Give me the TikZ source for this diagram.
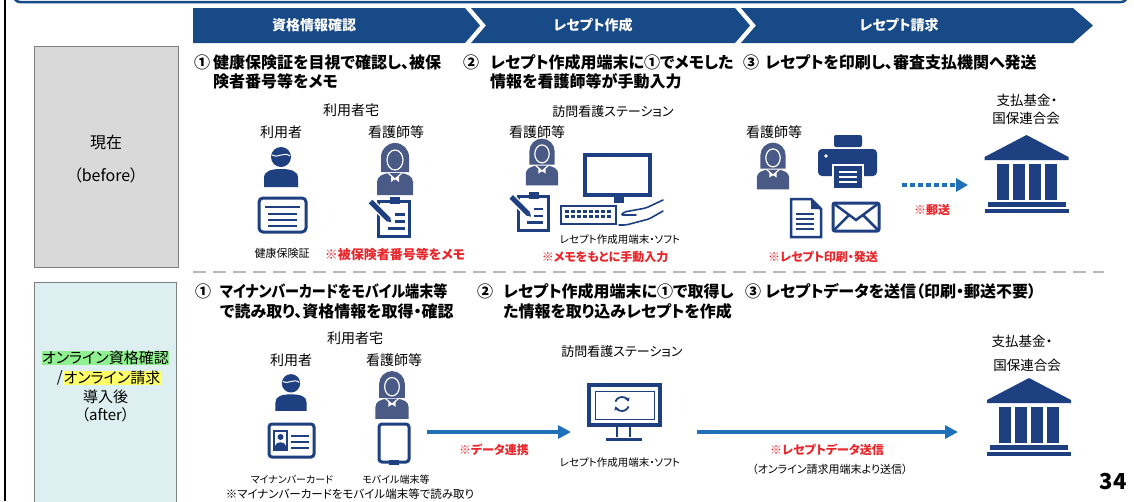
\documentclass[tikz,border=0pt]{standalone}
\usepackage{fontspec}
\usepackage{graphicx}
\setmainfont{Noto Sans CJK JP}[RawFeature=+palt]
\usetikzlibrary{positioning}
\usetikzlibrary{arrows.meta}

\definecolor{hdrblue}{HTML}{174A86}
\definecolor{iconblue}{HTML}{1E3F80}
\definecolor{nurseblue}{HTML}{4A5A86}
\definecolor{flowblue}{HTML}{1F70B8}
\definecolor{notered}{HTML}{E8262B}
\definecolor{nowgray}{HTML}{D9D9D9}
\definecolor{aftercyan}{HTML}{DDEFF0}
\definecolor{framegray}{HTML}{7F7F7F}
\definecolor{hlgreen}{HTML}{8FF08F}
\definecolor{hlyellow}{HTML}{FFFF66}

\newcommand\fsz[1]{\fontsize{#1}{#1}\selectfont}

% icons, drawn around their centre (y grows downwards)
\tikzset{
  user/.pic={
    \fill[iconblue] (0,-10) circle (10);
    \draw[white, line width=1pt] (-9,-12) .. controls (-4,-8) and (3,-16) .. (9,-11);
    \fill[iconblue] (-17,20) -- (-17,11) .. controls (-17,4) and (-10,2) .. (0,2)
      .. controls (10,2) and (17,4) .. (17,11) -- (17,20) -- cycle;
  },
  nurse/.pic={
    \fill[nurseblue] (-14,3) -- (-14,-12) arc[start angle=180, end angle=360, radius=14] -- (14,3) -- cycle;
    \fill[nurseblue] (-18,26) -- (-18,13) .. controls (-18,7) and (-12,5) .. (-6,4) -- (6,4)
      .. controls (12,5) and (18,7) .. (18,13) -- (18,26) -- cycle;
    \draw[white, line width=1.2pt, fill=nurseblue] (0,-9) ellipse [x radius=8, y radius=10];
    \draw[white, line width=1.2pt] (-7,4) -- (0,10) -- (7,4);
    \fill[white] (0,10) -- (-4,7) -- (-4,13) -- cycle;
    \fill[white] (0,10) -- (4,7) -- (4,13) -- cycle;
  },
  memo/.pic={
    \draw[iconblue, line width=3pt] (-15,-17) rectangle (16,18);
    \fill[iconblue] (-4,-22) rectangle (6,-15);
    \draw[iconblue, line width=2.5pt] (1,-4) -- (11,-4) (1,3) -- (11,3) (-6,10) -- (11,10);
    \draw[white, line width=8pt] (-23,-17) -- (-3,3);
    \draw[iconblue, line width=5pt] (-23,-17) -- (-5,1);
    \fill[iconblue] (-3.2,-0.8) -- (-2.2,3.8) -- (-6.8,2.8) -- cycle;
  },
  bank/.pic={
    \fill[iconblue] (-42,-17) -- (0,-39) -- (42,-17) -- (42,-14) -- (-42,-14) -- cycle;
    \foreach \c in {-30,-14,2,18}
      \fill[iconblue] (\c,-10) rectangle ++(12,36);
    \fill[iconblue] (-39,28) rectangle (39,33);
    \fill[iconblue] (-42,35) rectangle (42,39);
  }
}

\begin{document}
\begin{tikzpicture}[x=1pt, y=-1pt,
    steptext/.style={anchor=west, inner sep=0pt, font=\bfseries\fsz{16}},
    place/.style={inner sep=0pt, font=\fsz{14}},
    devname/.style={inner sep=0pt, font=\fsz{10.5}},
    remark/.style={inner sep=0pt, text=notered, font=\bfseries\fsz{12}},
    phase/.style={inner sep=0pt, text=white, font=\bfseries\fsz{14}},
    flow/.style={flowblue, line width=3.5pt, -{Triangle[length=13pt, width=13pt]}},
    post/.style={flowblue, line width=4pt, dash pattern=on 5pt off 3pt,
      -{Triangle[length=12pt, width=13pt]}},
    divider/.style={gray!55, line width=2pt, dash pattern=on 13pt off 7pt},
    stagebox/.style={draw=framegray, line width=1pt, inner sep=0pt}]

  \useasboundingbox (0,0) rectangle (1134,501);
  \fill[white] (0,0) rectangle (1134,501);

  % frame of the page
  \draw[hdrblue, line width=2.5pt, rounded corners=6pt] (14,-30) -- (14,2) -- (1127,2) -- (1127,-30);
  \draw[black, line width=1.6pt] (5,0) -- (5,501);

  % phases
  \fill[hdrblue] (193,8) -- (465,8) -- (480,25.5) -- (465,43) -- (193,43) -- cycle;
  \fill[hdrblue] (471,8) -- (735,8) -- (750,25.5) -- (735,43) -- (471,43) -- (486,25.5) -- cycle;
  \fill[hdrblue] (741,8) -- (1073,8) -- (1093,25.5) -- (1073,43) -- (741,43) -- (756,25.5) -- cycle;
  \node[phase] (ph1) at (314,25.5) {資格情報確認};
  \node[phase] (ph2) at (593,25.5) {レセプト作成};
  \node[phase] (ph3) at (899,25.5) {レセプト請求};

  % row headers
  \node[stagebox, fill=nowgray, minimum width=144pt, minimum height=221pt] (now) at (106,156.5) {};
  \node[place, font=\fsz{16}] (nowjp) at (106,142) {現在};
  \node[place, font=\fsz{16}] (nowen) at (106,175) {（before）};

  \node[stagebox, fill=aftercyan, minimum width=142pt, minimum height=240pt] (after) at (105,402) {};
  \node[place, font=\fsz{15}, fill=hlgreen, inner sep=0.5pt] (onl1) at (105.5,358) {オンライン資格確認};
  \node[place, font=\fsz{15}, fill=hlyellow, inner sep=0.5pt] (onl2) at (112,378) {オンライン請求};
  \node[place, font=\fsz{15}, left=0pt of onl2] (slash) {/};
  \node[place, font=\fsz{15}] (intro) at (105.5,397) {導入後};
  \node[place, font=\fsz{15}] (afteren) at (105.5,415) {（after）};

  \draw[divider] (193,272) -- (1104,272);

  % ---- before: step 1
  \node[steptext] (n1a) at (194,62) {①};
  \node[steptext] (t1a) at (213,62) {健康保険証を目視で確認し、被保};
  \node[steptext] (t1b) at (213,81) {険者番号等をメモ};
  \node[place] (home1) at (351,110) {利用者宅};
  \node[place] (usr1) at (281,132) {利用者};
  \node[place] (nrs1) at (396,132) {看護師等};
  \pic at (281,167) {user};
  \pic at (395,169) {nurse};
  \draw[iconblue, line width=3pt, rounded corners=4pt] (259,198) rectangle (306,232);
  \draw[iconblue, line width=2.5pt] (265,207) -- (300,207)
    (268,214) -- (297,214) (268,220) -- (297,220) (268,226) -- (297,226);
  \pic at (393.5,218.5) {memo};
  \node[devname, font=\fsz{11}] (card1) at (282,253) {健康保険証};
  \node[remark, font=\bfseries\fsz{13}] (memo1) at (395,255) {※被保険者番号等をメモ};

  % ---- before: step 2
  \node[steptext] (n2a) at (463,62) {②};
  \node[steptext] (t2a) at (490,62) {レセプト作成用端末に①でメモした};
  \node[steptext] (t2b) at (490,81) {情報を看護師等が手動入力};
  \node[place, font=\fsz{13}] (stn1) at (613,112) {訪問看護ステーション};
  \node[place] (nrs2) at (537,132) {看護師等};
  \pic[scale=0.9] at (542,162) {nurse};
  \pic[scale=0.95] at (533,213) {memo};
  \draw[iconblue, line width=3.5pt] (585,155) rectangle (650,195);
  \fill[iconblue] (614,197) rectangle (624,203);
  \draw[iconblue, line width=2.5pt] (561,206) rectangle (616,224);
  \foreach \i in {0,...,7} {
    \fill[iconblue] (565+\i*6,209.5) rectangle ++(4,3);
    \fill[iconblue] (565+\i*6,214.5) rectangle ++(4,3);
  }
  \draw[iconblue, line width=1.6pt, line cap=round, rounded corners=2pt]
    (663,200) -- (646,208) -- (624,212) -- (621,215) -- (636,215)
    (663,211) -- (649,219) -- (626,225) -- (619,225);
  \node[devname] (soft1) at (620,240) {レセプト作成用端末・ソフト};
  \node[remark] (input1) at (605,257) {※メモをもとに手動入力};

  % ---- before: step 3
  \node[steptext] (n3a) at (743,62) {③};
  \node[steptext] (t3a) at (765,62) {レセプトを印刷し、審査支払機関へ発送};
  \node[place] (nrs3) at (774,132) {看護師等};
  \pic[scale=0.9] at (773,166) {nurse};
  \fill[iconblue, rounded corners=2pt] (834,135) rectangle (862,147);
  \fill[iconblue, rounded corners=4pt] (818,149) rectangle (877,176);
  \fill[white] (826,156) circle (1.8);
  \draw[white, line width=2pt, fill=iconblue] (833,165) rectangle (863,189);
  \draw[white, line width=1.8pt] (839,172) -- (857,172) (839,177) -- (857,177) (839,182) -- (857,182);
  \draw[iconblue, line width=2.5pt, line join=miter] (791,199) -- (811,199) -- (821,209) -- (821,237) -- (791,237) -- cycle;
  \fill[iconblue] (811,199) -- (811,209) -- (821,209) -- cycle;
  \foreach \y in {214,219,224,229}
    \draw[iconblue, line width=2.5pt] (796,\y) -- (814,\y);
  \draw[iconblue, line width=3pt, rounded corners=2pt] (833,203) rectangle (879,231);
  \draw[iconblue, line width=2.5pt] (833,203) -- (856,220) -- (879,203) (833,231) -- (849,215) (879,231) -- (863,215);
  \node[remark] (print1) at (823,257) {※レセプト印刷・発送};
  \coordinate (postS) at (902,185);
  \coordinate (postE) at (968,185);
  \draw[post] (postS) -- (postE);
  \node[remark] (mail1) at (932,210) {※郵送};
  \node[place, font=\fsz{13.5}] (fund1a) at (1027,100) {支払基金・};
  \node[place, font=\fsz{13.5}] (fund1b) at (1026,118) {国保連合会};
  \pic at (1026.5,174) {bank};

  % ---- after: step 1
  \node[steptext] (n1c) at (195,291) {①};
  \node[steptext] (t1c) at (220,291) {\scalebox{0.88}[1]{マイナンバーカードをモバイル端末等}};
  \node[steptext] (t1d) at (220,311) {で読み取り、資格情報を取得・確認};
  \node[place] (home2) at (355,338) {利用者宅};
  \node[place] (usr2) at (291,360) {利用者};
  \node[place] (nrs4) at (394,360) {看護師等};
  \pic[scale=0.92] at (291,392.5) {user};
  \pic[scale=0.92] at (392,395) {nurse};
  \draw[iconblue, line width=3pt, rounded corners=3pt] (269,424) rectangle (314,457);
  \draw[iconblue, line width=1.5pt] (274,431) rectangle (287,450);
  \fill[iconblue] (280.5,437) circle (3);
  \fill[iconblue] (275,449) -- (275,446) .. controls (276,441) and (285,441) .. (286,446) -- (286,449) -- cycle;
  \draw[iconblue, line width=2.5pt] (291,436) -- (309,436) (291,442) -- (309,442) (291,448) -- (309,448);
  \draw[iconblue, line width=3pt, rounded corners=3pt] (379,424) rectangle (409,462);
  \fill[iconblue] (389,460) rectangle (399,465);
  \node[devname, font=\fsz{10}] (mncard) at (292,480) {マイナンバーカード};
  \node[devname, font=\fsz{10}] (mobile) at (396,480) {モバイル端末等};
  \node[place, font=\fsz{11.5}] (readnote) at (350,494) {※マイナンバーカードをモバイル端末等で読み取り};

  % ---- after: step 2
  \node[steptext] (n2c) at (477,291) {②};
  \node[steptext] (t2c) at (503,291) {レセプト作成用端末に①で取得し};
  \node[steptext] (t2d) at (503,311) {た情報を取り込みレセプトを作成};
  \node[place, font=\fsz{13}] (stn2) at (622,352) {訪問看護ステーション};
  \draw[iconblue, line width=3.5pt] (589,385) rectangle (660,425);
  \draw[iconblue, line width=1pt] (595,391) rectangle (654,419);
  \draw[iconblue, line width=2.5pt] (617,427) -- (617,437) (630,427) -- (630,437);
  \draw[iconblue, line width=3pt] (606,439) -- (642,439);
  \draw[iconblue, line width=1.8pt, -{Triangle[length=3.5pt, width=4.5pt]}] (622,404) ++(20:7) arc[start angle=20, end angle=160, radius=7];
  \draw[iconblue, line width=1.8pt, -{Triangle[length=3.5pt, width=4.5pt]}] (622,404) ++(200:7) arc[start angle=200, end angle=340, radius=7];
  \node[devname] (soft2) at (620,463) {レセプト作成用端末・ソフト};
  \coordinate (linkS) at (427,432);
  \coordinate (linkE) at (571,432);
  \draw[flow] (linkS) -- (linkE);
  \node[remark] (link) at (494,450) {※データ連携};

  % ---- after: step 3
  \node[steptext] (n3c) at (745,291) {③};
  \node[steptext] (t3c) at (765,291) {レセプトデータを送信（印刷・郵送不要）};
  \coordinate (sendS) at (697,432);
  \coordinate (sendE) at (958,432);
  \draw[flow] (sendS) -- (sendE);
  \node[remark] (send) at (827,450) {※レセプトデータ送信};
  \node[place, font=\fsz{11}] (sendvia) at (830,469) {（オンライン請求用端末より送信）};
  \node[place, font=\fsz{13.5}] (fund2a) at (1022,341) {支払基金・};
  \node[place, font=\fsz{13.5}] (fund2b) at (1027,365) {国保連合会};
  \pic at (1029,417) {bank};

  \node[inner sep=0pt, font=\bfseries\fsz{22}] (page) at (1113,482) {34};

\end{tikzpicture}
\end{document}
